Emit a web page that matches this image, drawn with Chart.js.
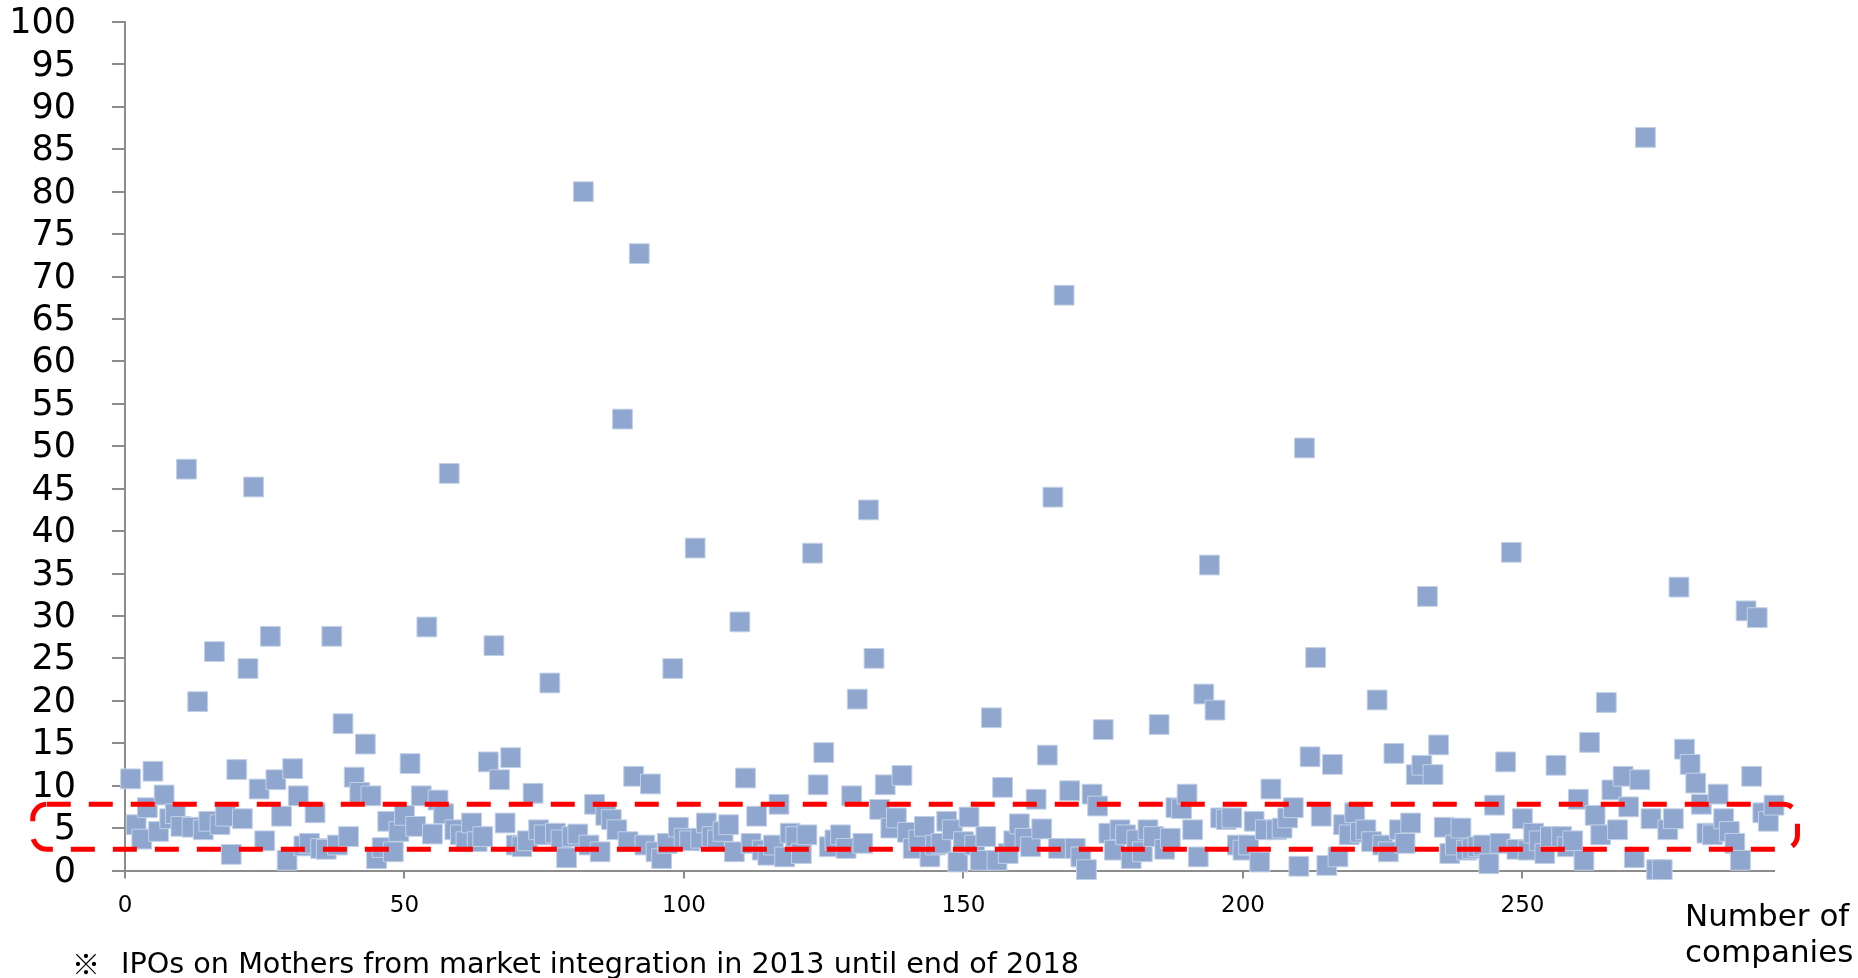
<!DOCTYPE html>
<html>
<head>
<meta charset="utf-8">
<script src="https://cdn.jsdelivr.net/npm/chart.js@4.4.1/dist/chart.umd.min.js"></script>
<style>
  html, body { margin: 0; padding: 0; background: #ffffff; overflow: hidden; }
  canvas { display: block; }
</style>
</head>
<body>
<canvas id="chart" width="1858" height="978"></canvas>
<script>
// Initial-return multiple of each IPO, in listing order (company 1 .. 295)
const ipoMultiples = [
  10.8, 5.4, 3.7, 7.4, 11.7, 4.6, 8.9, 6.1, 6.7, 5.2,
  47.3, 5.1, 19.9, 4.8, 5.8, 25.8, 5.4, 6.4, 1.9, 11.9,
  6.1, 23.8, 45.2, 9.6, 3.5, 27.6, 10.7, 6.4, 1.2, 12.0,
  8.8, 2.9, 3.2, 6.8, 2.6, 2.5, 27.6, 3.0, 17.3, 4.0,
  11.0, 9.2, 14.9, 8.8, 1.4, 2.7, 5.8, 2.2, 4.6, 6.5,
  12.6, 5.2, 8.8, 28.7, 4.3, 8.3, 6.7, 46.8, 4.8, 4.2,
  3.4, 5.6, 3.4, 4.0, 12.8, 26.5, 10.7, 5.6, 13.3, 3.0,
  2.8, 3.5, 9.1, 4.8, 4.2, 22.1, 4.4, 3.6, 1.5, 4.0,
  4.3, 80.0, 3.0, 7.8, 2.2, 6.5, 6.0, 4.8, 53.2, 3.4,
  11.1, 72.7, 3.0, 10.2, 2.2, 1.4, 3.2, 23.8, 5.1, 3.8,
  3.5, 38.0, 3.8, 5.6, 4.0, 3.6, 4.6, 5.4, 2.2, 29.3,
  10.9, 3.2, 6.4, 2.4, 1.8, 3.0, 7.8, 1.6, 4.4, 4.0,
  2.0, 4.2, 37.4, 10.1, 13.9, 2.8, 3.6, 4.2, 2.6, 8.8,
  20.2, 3.2, 42.5, 25.0, 7.2, 10.1, 5.0, 6.2, 11.2, 4.5,
  2.6, 3.6, 5.2, 1.6, 3.0, 3.2, 5.8, 4.8, 1.0, 3.4,
  6.3, 3.0, 1.2, 4.0, 18.0, 1.2, 9.8, 2.0, 3.5, 5.5,
  3.8, 2.8, 8.4, 4.9, 13.6, 44.0, 2.6, 67.8, 9.4, 2.6,
  1.6, 0.1, 9.0, 7.6, 16.6, 4.4, 2.4, 4.8, 4.2, 1.4,
  3.6, 2.2, 4.8, 4.0, 17.2, 2.5, 3.8, 7.4, 7.3, 9.0,
  4.8, 1.6, 20.8, 36.0, 18.9, 6.2, 6.0, 6.2, 3.0, 2.4,
  3.0, 5.8, 1.0, 4.8, 9.6, 4.8, 5.0, 6.2, 7.4, 0.5,
  49.8, 13.4, 25.1, 6.4, 0.6, 12.5, 1.6, 5.4, 4.2, 6.8,
  4.5, 4.8, 3.4, 20.1, 3.0, 2.2, 13.8, 4.8, 3.2, 5.6,
  11.3, 12.4, 32.3, 11.3, 14.8, 5.1, 2.0, 3.0, 5.0, 2.4,
  2.6, 2.8, 3.0, 0.8, 7.7, 3.2, 12.8, 37.5, 2.5, 6.1,
  2.4, 4.4, 3.5, 2.0, 4.0, 12.4, 4.0, 2.8, 3.5, 8.4,
  1.2, 15.1, 6.5, 4.2, 19.8, 9.5, 4.8, 11.1, 7.5, 1.5,
  10.7, 86.4, 6.1, 0.1, 0.1, 4.8, 6.1, 33.4, 14.3, 12.5,
  10.3, 7.8, 4.4, 4.2, 9.0, 6.1, 4.6, 3.2, 1.2, 30.6,
  11.1, 29.8, 6.8, 5.8, 7.7
];

// Axis ranges and tick steps
const xRange = [0, 295];
const xTickStep = 50;
const yRange = [0, 100];
const yTickStep = 5;

// Texts
const xAxisTitle = ['Number of', 'companies'];
const noteMark = '※';
const noteText = 'IPOs on Mothers from market integration in 2013 until end of 2018';

// Dashed frame around the core band, in axis units
const coreBand = { xFrom: -16.5, xTo: 299.2, yFrom: 2.5, yTo: 7.8 };

const points = ipoMultiples.map((v, i) => ({ x: i + 1, y: v }));

const AXIS_GREY = '#8c8c8c';

const bandFrame = {
  id: 'bandFrame',
  afterDatasetsDraw(chart) {
    const { ctx, scales: { x, y } } = chart;
    const left = x.getPixelForValue(coreBand.xFrom);
    const right = x.getPixelForValue(coreBand.xTo);
    const top = y.getPixelForValue(coreBand.yTo);
    const bottom = y.getPixelForValue(coreBand.yFrom);
    ctx.save();
    ctx.strokeStyle = '#ff0000';
    ctx.lineWidth = 5;
    ctx.setLineDash([24, 18]);
    ctx.beginPath();
    ctx.roundRect(left, top, right - left, bottom - top, 14);
    ctx.stroke();
    ctx.restore();
  }
};

const captions = {
  id: 'captions',
  afterDraw(chart) {
    const { ctx } = chart;
    ctx.save();
    ctx.fillStyle = '#000000';
    ctx.textBaseline = 'alphabetic';
    ctx.textAlign = 'left';

    // axis title at the lower right
    ctx.font = '31px "DejaVu Sans", sans-serif';
    ctx.fillText(xAxisTitle[0], 1685, 926);
    ctx.fillText(xAxisTitle[1], 1685, 962);

    // footnote
    ctx.font = '28px "Noto Sans CJK JP", "DejaVu Sans", sans-serif';
    ctx.fillText(noteMark, 72, 975);
    let size = 28;
    ctx.font = size + 'px "DejaVu Sans", sans-serif';
    const w = ctx.measureText(noteText).width;
    size = size * 958 / w;
    ctx.font = size.toFixed(2) + 'px "DejaVu Sans", sans-serif';
    ctx.fillText(noteText, 121, 973);
    ctx.restore();
  }
};

new Chart(document.getElementById('chart'), {
  type: 'scatter',
  data: {
    datasets: [{
      data: points,
      pointStyle: 'rect',
      pointRadius: 14,
      pointHoverRadius: 14,
      backgroundColor: '#8FA7CF',
      borderColor: '#C3D0E6',
      borderWidth: 1,
      clip: false
    }]
  },
  options: {
    responsive: false,
    devicePixelRatio: 1,
    animation: false,
    events: [],
    layout: { padding: { left: 0, top: 22, right: 84, bottom: 0 } },
    plugins: { legend: { display: false }, tooltip: { enabled: false } },
    scales: {
      x: {
        type: 'linear',
        min: xRange[0],
        max: xRange[1],
        afterFit(scale) {
          scale.height = 107.5;
          scale.paddingLeft = 0;
          scale.paddingRight = 0;
        },
        border: { display: true, color: AXIS_GREY, width: 2 },
        grid: { display: true, drawOnChartArea: false, drawTicks: true, tickLength: 8, color: AXIS_GREY, lineWidth: 2 },
        ticks: {
          stepSize: xTickStep,
          includeBounds: false,
          autoSkip: false,
          maxRotation: 0,
          padding: 14,
          color: '#000000',
          font: { family: '"DejaVu Sans", sans-serif', size: 23 }
        }
      },
      y: {
        type: 'linear',
        min: yRange[0],
        max: yRange[1],
        afterFit(scale) {
          scale.width = 125;
          scale.paddingTop = 0;
          scale.paddingBottom = 0;
        },
        border: { display: true, color: AXIS_GREY, width: 2 },
        grid: { display: true, drawOnChartArea: false, drawTicks: true, tickLength: 13, color: AXIS_GREY, lineWidth: 2 },
        ticks: {
          stepSize: yTickStep,
          autoSkip: false,
          padding: 36,
          labelOffset: 2,
          color: '#000000',
          font: { family: '"DejaVu Sans", sans-serif', size: 35 }
        }
      }
    }
  },
  plugins: [bandFrame, captions]
});
</script>
</body>
</html>
